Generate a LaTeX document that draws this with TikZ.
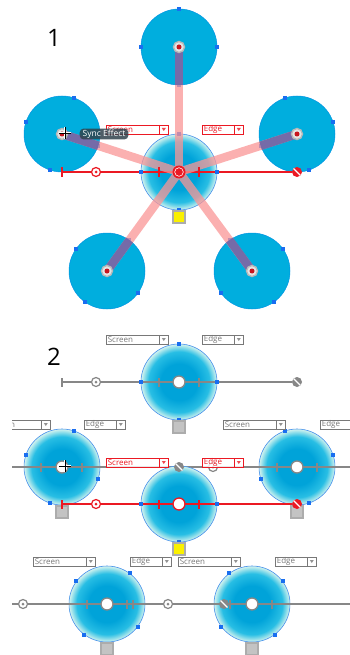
\documentclass[tikz,border=0pt]{standalone}
\usepackage{fontspec}
\setmainfont{Open Sans}
\usepackage{tikz}

\definecolor{lenscyan}{RGB}{0,174,222}
\definecolor{lensdeep}{RGB}{0,163,217}
\definecolor{lensmid}{RGB}{40,190,228}
\definecolor{lenspale}{RGB}{212,243,238}
\definecolor{rimblue}{RGB}{70,145,235}
\definecolor{grabblue}{RGB}{25,110,240}
\definecolor{beampink}{RGB}{250,150,150}
\definecolor{beamviolet}{RGB}{110,102,168}
\definecolor{slidergray}{RGB}{135,135,135}
\definecolor{uired}{RGB}{235,25,35}
\definecolor{uigray}{RGB}{120,120,120}
\definecolor{swatchgray}{RGB}{195,195,195}
\definecolor{swatchyellow}{RGB}{250,240,0}
\definecolor{tipgray}{RGB}{48,66,76}

\pgfdeclareradialshading{lensglow}{\pgfpoint{0bp}{0bp}}{color(0bp)=(lensdeep); color(12bp)=(lensdeep); color(20bp)=(lensmid); color(25bp)=(lenspale); color(50bp)=(lenspale)}

\begin{document}
\begin{tikzpicture}[x=1pt, y=-1pt,
    lens/.style={circle, minimum size=76pt, inner sep=0pt, draw=rimblue, line width=0.6pt, shade, shading=lensglow},
    solidlens/.style={circle, minimum size=76pt, inner sep=0pt, fill=lenscyan, draw=lenscyan!85!blue, line width=0.5pt},
    handle/.style={fill=grabblue, minimum size=4pt, inner sep=0pt},
    slider/.style={draw=#1, line width=1.1pt},
    tick/.style={fill=#1, minimum width=1.8pt, minimum height=9pt, inner sep=0pt},
    ringmark/.style={circle, draw=#1, line width=1.2pt, fill=white, minimum size=9pt, inner sep=0pt,
        path picture={\fill[#1] (path picture bounding box.center) circle (1.5pt);}},
    knob/.style={circle, fill=#1, minimum size=10pt, inner sep=0pt,
        path picture={\draw[white, line width=1.3pt] (path picture bounding box.north west) -- (path picture bounding box.south east);}},
    centerdot/.style={circle, draw=#1, line width=1.3pt, fill=white, minimum size=12pt, inner sep=0pt},
    hubknob/.style={circle, fill=uired, minimum size=13pt, inner sep=0pt,
        path picture={\draw[white, line width=0.6pt] (path picture bounding box.center) circle (4.3pt);}},
    pivot/.style={circle, draw=gray!55, line width=1.4pt, fill=gray!20, minimum size=11pt, inner sep=0pt,
        path picture={\fill[uired!85!black] (path picture bounding box.center) circle (2.5pt);}},
    swatch/.style={draw=gray!65, line width=1.1pt, fill=#1, minimum size=12pt, inner sep=0pt},
    beam/.style={beampink, line width=8.5pt, opacity=0.75},
    beamin/.style={beamviolet, line width=8.5pt, opacity=0.9},
    dropdown/.style 2 args={draw=#1, text=#1, fill=white, fill opacity=0.8, text opacity=1, line width=0.6pt,
        anchor=west, minimum height=9pt, text width=#2, inner xsep=1.5pt, inner ysep=0pt, align=left,
        font=\fontsize{8}{8}\selectfont,
        path picture={\draw[#1] ([xshift=-9pt]path picture bounding box.north east) -- ([xshift=-9pt]path picture bounding box.south east);
            \fill[#1] ([xshift=-6.5pt,yshift=-3pt]path picture bounding box.north east) -- ([xshift=-2.5pt,yshift=-3pt]path picture bounding box.north east) -- ([xshift=-4.5pt,yshift=-6pt]path picture bounding box.north east) -- cycle;}},
    tooltip/.style={fill=tipgray, fill opacity=0.85, text opacity=1, text=white, rounded corners=4pt,
        inner xsep=3pt, inner ysep=1.2pt, font=\fontsize{8.5}{9}\selectfont},
    partlabel/.style={font=\fontsize{24}{24}\selectfont},
    cursorhalo/.style={white, line width=2.2pt},
    cursorline/.style={black, line width=0.8pt}]

    \useasboundingbox (0,0) rectangle (350,655);

    % --- 1: five lenses around the hub
    \node[partlabel] (label1) at (54,38) {1};
    \node[solidlens] (lensN)  at (179,47)  {};
    \node[solidlens] (lensNE) at (297,134) {};
    \node[solidlens] (lensSE) at (252,271) {};
    \node[solidlens] (lensSW) at (107,271) {};
    \node[solidlens] (lensNW) at (62,134)  {};
    \node[lens]      (hub)    at (179,172) {};

    \node[tick=uired] (bar1)  at (62,172)  {};
    \node[knob=uired] (knob1) at (297,172) {};
    \draw[slider=uired] (bar1) -- (knob1);

    \foreach \a in {0,90,180,270}   \node[handle] at (lensN.\a)  {};
    \foreach \a in {18,108,198,288} \node[handle] at (lensNE.\a) {};
    \foreach \a in {36,126,216,306} \node[handle] at (lensSE.\a) {};
    \foreach \a in {54,144,234,324} \node[handle] at (lensSW.\a) {};
    \foreach \a in {72,162,252,342} \node[handle] at (lensNW.\a) {};
    \foreach \a in {0,90,180,270}   \node[handle] at (hub.\a)    {};

    \draw[beam] (hub.center) -- (lensN.center);
    \draw[beam] (hub.center) -- (lensNE.center);
    \draw[beam] (hub.center) -- (lensSE.center);
    \draw[beam] (hub.center) -- (lensSW.center);
    \draw[beam] (hub.center) -- (lensNW.center);
    \draw[beamin] (lensN.center)  -- (lensN.270);
    \draw[beamin] (lensNE.center) -- (lensNE.198);
    \draw[beamin] (lensSE.center) -- (lensSE.126);
    \draw[beamin] (lensSW.center) -- (lensSW.54);
    \draw[beamin] (lensNW.center) -- (lensNW.342);

    \node[pivot] (pivotN)  at (lensN)  {};
    \node[pivot] (pivotNE) at (lensNE) {};
    \node[pivot] (pivotSE) at (lensSE) {};
    \node[pivot] (pivotSW) at (lensSW) {};
    \node[pivot] (pivotNW) at (lensNW) {};

    \node[ringmark=uired] (ring1)  at (96,172)  {};
    \node[tick=uired]     (tick11) at (159,172) {};
    \node[tick=uired]     (tick12) at (199,172) {};
    \node[hubknob]        (dot1)   at (hub)     {};
    \node[swatch=swatchyellow] (sw1) at (179,217) {};

    \node[dropdown={uired}{59pt}] (screen1) at (106,129.5) {Screen};
    \node[dropdown={uired}{38pt}] (edge1)   at (202,129.5) {Edge};
    \node[tooltip] (tip1) at (104,134) {Sync Effect};
    \coordinate (cursor1) at (65,133);
    \draw[cursorhalo] ([xshift=-6pt]cursor1) -- ([xshift=6pt]cursor1) ([yshift=-6pt]cursor1) -- ([yshift=6pt]cursor1);
    \draw[cursorline] ([xshift=-6pt]cursor1) -- ([xshift=6pt]cursor1) ([yshift=-6pt]cursor1) -- ([yshift=6pt]cursor1);

    % --- 2: the lenses opened up
    \node[partlabel] (label2) at (54,357) {2};
    \node[lens] (topLens) at (179,382) {};
    \node[tick=slidergray] (barA)  at (62,382)  {};
    \node[knob=slidergray] (knobA) at (297,382) {};
    \draw[slider=slidergray] (barA) -- (knobA);
    \node[ringmark=slidergray] (ringA)  at (96,382)  {};
    \node[tick=slidergray]     (tickA1) at (159,382) {};
    \node[tick=slidergray]     (tickA2) at (199,382) {};
    \node[centerdot=slidergray] (dotA)  at (topLens) {};
    \foreach \a in {0,90,180,270} \node[handle] at (topLens.\a) {};
    \node[swatch=swatchgray] (swA) at (179,427) {};
    \node[dropdown={uigray}{59pt}] (screenA) at (106,339.5) {Screen};
    \node[dropdown={uigray}{38pt}] (edgeA)   at (202,339.5) {Edge};

    \begin{scope}
    \clip (12,0) rectangle (350,655);
    % middle row
    \node[lens] (leftLens)  at (62,467)  {};
    \node[lens] (rightLens) at (297,467) {};
    \coordinate (midL) at (12,467);
    \coordinate (midR) at (350,467);
    \draw[slider=slidergray] (midL) -- (midR);
    \node[tick=slidergray] (tickB1) at (41,467)  {};
    \node[tick=slidergray] (tickB2) at (82,467)  {};
    \node[tick=slidergray] (tickC1) at (277,467) {};
    \node[tick=slidergray] (tickC2) at (317,467) {};
    \node[centerdot=slidergray] (dotB) at (leftLens)  {};
    \node[centerdot=slidergray] (dotC) at (rightLens) {};
    \foreach \a in {72,162,252,342} \node[handle] at (leftLens.\a)  {};
    \foreach \a in {18,108,198,288} \node[handle] at (rightLens.\a) {};
    \node[swatch=swatchgray] (swB) at (62,512)  {};
    \node[swatch=swatchgray] (swC) at (297,512) {};
    \node[dropdown={uigray}{59pt}] (screenB) at (-12,424.5) {Screen};
    \node[dropdown={uigray}{38pt}] (edgeB)   at (84,424.5)  {Edge};
    \node[dropdown={uigray}{59pt}] (screenC) at (223,424.5) {Screen};
    \node[dropdown={uigray}{38pt}] (edgeC)   at (320,424.5) {Edge};

    % bottom row
    \node[lens] (lowLeftLens)  at (107,604) {};
    \node[lens] (lowRightLens) at (252,604) {};
    \coordinate (lowL) at (12,604);
    \coordinate (lowR) at (350,604);
    \draw[slider=slidergray] (lowL) -- (lowR);
    \node[ringmark=slidergray] (ringE) at (23,604)  {};
    \node[ringmark=slidergray] (ringF) at (168,604) {};
    \node[tick=slidergray] (tickE1) at (87,604)  {};
    \node[tick=slidergray] (tickE2) at (127,604) {};
    \node[tick=slidergray] (tickE3) at (133,604) {};
    \node[tick=slidergray] (tickF1) at (230,604) {};
    \node[tick=slidergray] (tickF2) at (272,604) {};
    \node[knob=slidergray] (knobF)  at (224,604) {};
    \node[centerdot=slidergray] (dotE) at (lowLeftLens)  {};
    \node[centerdot=slidergray] (dotF) at (lowRightLens) {};
    \foreach \a in {54,144,234,324} \node[handle] at (lowLeftLens.\a)  {};
    \foreach \a in {36,126,216,306} \node[handle] at (lowRightLens.\a) {};
    \node[swatch=swatchgray] (swE) at (107,649) {};
    \node[swatch=swatchgray] (swF) at (252,649) {};
    \node[dropdown={uigray}{59pt}] (screenE) at (33,561.5)  {Screen};
    \node[dropdown={uigray}{38pt}] (edgeE)   at (130,561.5) {Edge};
    \node[dropdown={uigray}{59pt}] (screenF) at (178,561.5) {Screen};
    \node[dropdown={uigray}{38pt}] (edgeF)   at (275,561.5) {Edge};
    \end{scope}

    % middle hub
    \node[lens] (midHub) at (179,504) {};
    \node[tick=uired] (barD)  at (62,504)  {};
    \node[knob=uired] (knobD) at (297,504) {};
    \draw[slider=uired] (barD) -- (knobD);
    \node[ringmark=uired] (ringD)  at (96,504)  {};
    \node[tick=uired]     (tickD1) at (159,504) {};
    \node[tick=uired]     (tickD2) at (199,504) {};
    \node[centerdot=uired] (dotD)  at (midHub)  {};
    \foreach \a in {0,90,180,270} \node[handle] at (midHub.\a) {};
    \node[swatch=swatchyellow] (swD) at (179,549) {};
    \node[knob=slidergray]     (knobB) at (179,467) {};
    \node[ringmark=slidergray] (ringC) at (213,467) {};
    \node[dropdown={uired}{59pt}] (screenD) at (106,462.5) {Screen};
    \node[dropdown={uired}{38pt}] (edgeD)   at (202,462.5) {Edge};
    \coordinate (cursor2) at (65,466);
    \draw[cursorhalo] ([xshift=-6pt]cursor2) -- ([xshift=6pt]cursor2) ([yshift=-6pt]cursor2) -- ([yshift=6pt]cursor2);
    \draw[cursorline] ([xshift=-6pt]cursor2) -- ([xshift=6pt]cursor2) ([yshift=-6pt]cursor2) -- ([yshift=6pt]cursor2);
\end{tikzpicture}
\end{document}
